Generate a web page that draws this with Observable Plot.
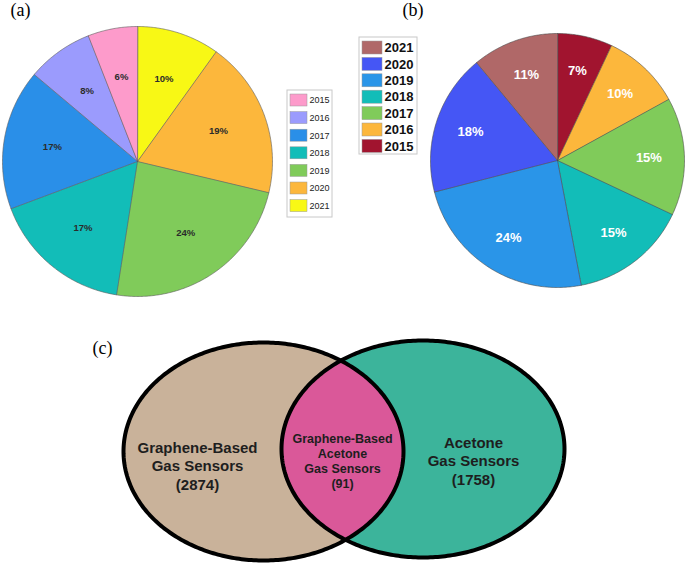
<!DOCTYPE html>
<html>
<head>
<meta charset="utf-8">
<script src="https://cdn.jsdelivr.net/npm/d3@7"></script>
<script src="https://cdn.jsdelivr.net/npm/@observablehq/plot@0.6"></script>
<style>
  html, body { margin: 0; padding: 0; background: #fff; }
  #chart { width: 685px; height: 564px; }
</style>
</head>
<body>
<div id="chart"></div>
<script>
// ---------- DATA ----------
const yearsA = ["2015", "2016", "2017", "2018", "2019", "2020", "2021"];
const sharesA = [6, 8, 17, 17, 24, 19, 10];           // panel (a), percent
const yearsB = ["2015", "2016", "2017", "2018", "2019", "2020", "2021"];
const sharesB = [7, 10, 15, 15, 24, 18, 11];          // panel (b), percent
const vennSets = ["Graphene-Based\nGas Sensors", "Acetone\nGas Sensors"];
const vennCounts = [2874, 1758];
const vennOverlapLabel = "Graphene-Based\nAcetone\nGas Sensors";
const vennOverlapCount = 91;
const panelLabels = ["(a)", "(b)", "(c)"];

// ---------- STYLES / LAYOUT ----------
const colorsA = ["#fd9bcb", "#9b9bfd", "#2a8fe8", "#12bdb8", "#80cb5a", "#fcb73c", "#f8f815"];
const colorsB = ["#a1142f", "#fcb73c", "#80cb5a", "#12bdb8", "#2a95e8", "#4556f5", "#b06868"];
const layout = {
  a: {cx: 137, cy: 161, r: 135, labelR: 0.64},
  b: {cx: 557, cy: 160, r: 127, labelR: 0.72},
  legendA: {x: 287, y: 90, w: 45, h: 127, row: 17.6, sw: 17, sh: 12},
  legendB: {x: 359, y: 37, w: 58, h: 117, row: 16.4, sw: 20, sh: 13},
  left: {cx: 263, cy: 451, rx: 140, ry: 109},
  right: {cx: 422.5, cy: 448.5, rx: 141.5, ry: 108.5}
};
const sans = "'Liberation Sans', Arial, Helvetica, sans-serif";
const serif = "'Liberation Serif', 'Times New Roman', serif";

// ---------- GEOMETRY ----------
function pieData(years, shares, colors, cfg, reverse) {
  const rows = years.map((y, i) => ({year: y, value: shares[i], color: colors[i]}));
  const ordered = reverse ? rows.slice().reverse() : rows;
  const arcs = d3.pie().sort(null).value(d => d.value)(ordered);
  const pts = [], labels = [];
  arcs.forEach(a => {
    const key = a.data.year;
    pts.push({key, color: a.data.color, x: cfg.cx, y: cfg.cy});
    const n = Math.max(2, Math.ceil((a.endAngle - a.startAngle) / 0.01));
    for (let k = 0; k <= n; k++) {
      const t = a.startAngle + (a.endAngle - a.startAngle) * k / n;
      pts.push({key, color: a.data.color, x: cfg.cx + cfg.r * Math.sin(t), y: cfg.cy - cfg.r * Math.cos(t)});
    }
    const m = (a.startAngle + a.endAngle) / 2;
    labels.push({text: a.data.value + "%", x: cfg.cx + cfg.r * cfg.labelR * Math.sin(m), y: cfg.cy - cfg.r * cfg.labelR * Math.cos(m)});
  });
  return {pts, labels};
}
function ellipsePts(e, key) {
  const out = [];
  for (let k = 0; k < 360; k++) {
    const t = k / 360 * 2 * Math.PI;
    out.push({key, x: e.cx + e.rx * Math.cos(t), y: e.cy + e.ry * Math.sin(t)});
  }
  return out;
}
function inside(p, e) {
  const dx = (p.x - e.cx) / e.rx, dy = (p.y - e.cy) / e.ry;
  return dx * dx + dy * dy <= 1;
}
function lensPts(L, R) {
  const out = [];
  for (let k = -1800; k <= 1800; k++) {
    const t = k / 1800 * Math.PI;
    const p = {key: "lens", x: L.cx + L.rx * Math.cos(t), y: L.cy + L.ry * Math.sin(t)};
    if (inside(p, R)) out.push(p);
  }
  for (let k = 0; k <= 3600; k++) {
    const t = k / 3600 * 2 * Math.PI;
    const p = {key: "lens", x: R.cx + R.rx * Math.cos(t), y: R.cy + R.ry * Math.sin(t)};
    if (inside(p, L)) out.push(p);
  }
  return out;
}
function legendData(years, colors, cfg, order) {
  return order.map((i, j) => ({
    year: years[i], color: colors[i],
    x1: cfg.x + 3, x2: cfg.x + 3 + cfg.sw,
    y1: cfg.y + 4 + j * cfg.row, y2: cfg.y + 4 + j * cfg.row + cfg.sh,
    tx: cfg.x + 5 + cfg.sw, ty: cfg.y + 4 + j * cfg.row + cfg.sh / 2
  }));
}

const pa = pieData(yearsA, sharesA, colorsA, layout.a, true);
const pb = pieData(yearsB, sharesB, colorsB, layout.b, false);
const legA = legendData(yearsA, colorsA, layout.legendA, [0, 1, 2, 3, 4, 5, 6]);
const legB = legendData(yearsB, colorsB, layout.legendB, [6, 5, 4, 3, 2, 1, 0]);
const leftE = ellipsePts(layout.left, "L");
const rightE = ellipsePts(layout.right, "R");
const lens = lensPts(layout.left, layout.right);
const vennText = [
  {text: vennSets[0] + "\n(" + vennCounts[0] + ")", x: 197, y: 465},
  {text: vennSets[1] + "\n(" + vennCounts[1] + ")", x: 473, y: 460}
];
const vennMid = [{text: vennOverlapLabel + "\n(" + vennOverlapCount + ")", x: 342, y: 460}];
const panels = [
  {text: panelLabels[0], x: 10, y: 15},
  {text: panelLabels[1], x: 402, y: 15},
  {text: panelLabels[2], x: 92, y: 353}
];
const boxes = [layout.legendA, layout.legendB].map(c => ({x1: c.x, x2: c.x + c.w, y1: c.y, y2: c.y + c.h}));

const plot = Plot.plot({
  width: 685, height: 564,
  margin: 0,
  x: {domain: [0, 685], range: [0, 685], axis: null},
  y: {domain: [0, 564], range: [0, 564], axis: null},
  style: {fontFamily: sans, background: "#fff"},
  marks: [
    // pies
    Plot.line(pa.pts, {x: "x", y: "y", z: "key", fill: "color", stroke: "#5a5a5a", strokeWidth: 0.6, curve: "linear-closed"}),
    Plot.text(pa.labels, {x: "x", y: "y", text: "text", fontSize: 9.5, fontWeight: 600, fontFamily: sans, fill: "#2b2b2b"}),
    Plot.line(pb.pts, {x: "x", y: "y", z: "key", fill: "color", stroke: "#4a4a4a", strokeWidth: 0.6, curve: "linear-closed"}),
    Plot.text(pb.labels, {x: "x", y: "y", text: "text", fontSize: 13, fontWeight: "bold", fontFamily: sans, fill: "#ffffff"}),
    // legends
    Plot.rect(boxes, {x1: "x1", x2: "x2", y1: "y1", y2: "y2", fill: "#fff", stroke: "#c8c8c8", strokeWidth: 1}),
    Plot.rect(legA, {x1: "x1", x2: "x2", y1: "y1", y2: "y2", fill: "color", stroke: "#9a9a9a", strokeWidth: 0.5}),
    Plot.text(legA, {x: "tx", y: "ty", text: "year", textAnchor: "start", fontSize: 9, fontFamily: sans, fill: "#222"}),
    Plot.rect(legB, {x1: "x1", x2: "x2", y1: "y1", y2: "y2", fill: "color", stroke: "#9a9a9a", strokeWidth: 0.5}),
    Plot.text(legB, {x: "tx", y: "ty", text: "year", textAnchor: "start", fontSize: 13, fontWeight: "bold", fontFamily: sans, fill: "#111"}),
    // venn
    Plot.line(leftE, {x: "x", y: "y", z: "key", fill: "#c9b29a", stroke: "none", curve: "linear-closed"}),
    Plot.line(rightE, {x: "x", y: "y", z: "key", fill: "#3cb49b", stroke: "none", curve: "linear-closed"}),
    Plot.line(lens, {x: "x", y: "y", z: "key", fill: "#da5899", stroke: "none", curve: "linear-closed"}),
    Plot.line(leftE, {x: "x", y: "y", z: "key", fill: "none", stroke: "#000", strokeWidth: 4, curve: "linear-closed"}),
    Plot.line(rightE, {x: "x", y: "y", z: "key", fill: "none", stroke: "#000", strokeWidth: 4, curve: "linear-closed"}),
    Plot.text(vennText, {x: "x", y: "y", text: "text", fontSize: 15, fontWeight: "bold", lineHeight: 1.22, fontFamily: sans, fill: "#1e1e1e"}),
    Plot.text(vennMid, {x: "x", y: "y", text: "text", fontSize: 12.5, fontWeight: "bold", lineHeight: 1.2, fontFamily: sans, fill: "#1e1e1e"}),
    // panel labels
    Plot.text(panels, {x: "x", y: "y", text: "text", textAnchor: "start", lineAnchor: "bottom", fontSize: 18, fontFamily: serif, fill: "#000"})
  ]
});
document.getElementById("chart").appendChild(plot);
</script>
</body>
</html>
